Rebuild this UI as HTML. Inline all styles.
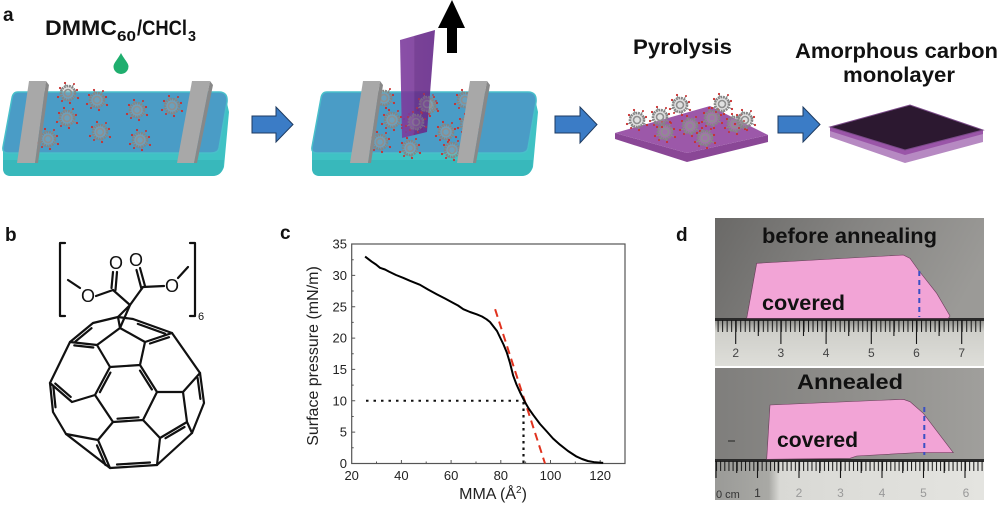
<!DOCTYPE html>
<html><head><meta charset="utf-8"><style>
html,body{margin:0;padding:0;background:#fff;}
svg{display:block;}
text{font-family:"Liberation Sans",Arial,sans-serif;}
</style></head><body>
<svg width="1000" height="507" viewBox="0 0 1000 507" xmlns="http://www.w3.org/2000/svg">
<defs>
<g id="mol">
<circle r="7" fill="#a9a9a9" fill-opacity="0.35" stroke="#858585" stroke-width="2.6" stroke-dasharray="1.8 0.8"/>
<circle r="3.5" fill="none" stroke="#8f8f8f" stroke-width="1.6"/>
<g stroke="#8a8a8a" stroke-width="1"><line x1="6" y1="-2" x2="9" y2="-3"/><line x1="-6" y1="-3" x2="-8" y2="-5"/><line x1="1" y1="7" x2="2" y2="10"/><line x1="-2" y1="-7" x2="-3" y2="-10"/><line x1="6" y1="3" x2="10" y2="5"/><line x1="-6" y1="3" x2="-10" y2="4"/><line x1="4" y1="-6" x2="6" y2="-9"/><line x1="-4" y1="6" x2="-6" y2="8"/></g>
<g fill="#c83030"><circle cx="9" cy="-3" r="1.1"/><circle cx="-8" cy="-5" r="1.1"/><circle cx="2" cy="10" r="1.1"/><circle cx="-3" cy="-10" r="1.1"/><circle cx="10" cy="5" r="1.1"/><circle cx="-10" cy="4" r="1.1"/><circle cx="6" cy="-9" r="1"/><circle cx="-6" cy="8" r="1"/></g>
</g>
<linearGradient id="plate" x1="0" y1="0" x2="1" y2="0"><stop offset="0" stop-color="#7d3c9e"/><stop offset="0.4" stop-color="#7a3a9a"/><stop offset="0.42" stop-color="#6a2d8a"/><stop offset="1" stop-color="#66298a"/></linearGradient>
<linearGradient id="bg1" x1="0" y1="0" x2="1" y2="0.3"><stop offset="0" stop-color="#6a6967"/><stop offset="0.5" stop-color="#858482"/><stop offset="1" stop-color="#9b9a97"/></linearGradient>
<linearGradient id="bg2" x1="0" y1="0" x2="1" y2="0"><stop offset="0" stop-color="#7f7e7c"/><stop offset="0.5" stop-color="#8f8e8b"/><stop offset="1" stop-color="#a09f9c"/></linearGradient>
<linearGradient id="rul1" x1="0" y1="0" x2="0" y2="1"><stop offset="0" stop-color="#8c8c88"/><stop offset="0.25" stop-color="#cfcfca"/><stop offset="1" stop-color="#deded9"/></linearGradient>
<linearGradient id="rul2" x1="0" y1="0" x2="1" y2="0"><stop offset="0" stop-color="#9a9a97"/><stop offset="0.2" stop-color="#a9a9a5"/><stop offset="0.24" stop-color="#d9d9d5"/><stop offset="1" stop-color="#e4e4e0"/></linearGradient>
<pattern id="t1" x="645.3" y="0" width="4.52" height="507" patternUnits="userSpaceOnUse"><rect x="0" y="0" width="1" height="507" fill="#151515"/></pattern>
<pattern id="t2" x="716" y="0" width="4.15" height="507" patternUnits="userSpaceOnUse"><rect x="0" y="0" width="1" height="507" fill="#151515"/></pattern>
</defs>

<!-- ================= Panel a ================= -->
<text x="3" y="21" font-size="19" font-weight="bold" fill="#111">a</text>
<text x="45" y="35" font-size="21" font-weight="bold" fill="#111" textLength="72" lengthAdjust="spacingAndGlyphs">DMMC</text>
<text x="117" y="41" font-size="15" font-weight="bold" fill="#111" textLength="19" lengthAdjust="spacingAndGlyphs">60</text>
<text x="137" y="35" font-size="21" font-weight="bold" fill="#111" textLength="50" lengthAdjust="spacingAndGlyphs">/CHCl</text>
<text x="188" y="41" font-size="15" font-weight="bold" fill="#111" textLength="8" lengthAdjust="spacingAndGlyphs">3</text>
<path d="M121,53 C118,59 113.5,63 113.5,66.5 A7.5,7.5 0 0 0 128.5,66.5 C128.5,63 124,59 121,53 Z" fill="#1fae6e"/>

<!-- trough 1 -->
<g>
<path d="M3,146 L218,149 L227,103 L229,112 L224,167 Q221,176 212,176 L11,176 Q3,176 3,168 Z" fill="#3fc2c4"/>
<path d="M3,160 L224,160 L223,168 Q221,176 212,176 L11,176 Q3,176 3,168 Z" fill="#38b8bb"/>
<path d="M18,92 L219,92 Q228,92 227,102 L219,148 Q218,153 211,153 L8,153 Q2,153 3,147 L12,98 Q13,92 18,92 Z" fill="#4a9cc6" stroke="#48bfca" stroke-width="1.5"/>
</g>
<g>
<use href="#mol" x="68" y="93"/><use href="#mol" x="97" y="100"/><use href="#mol" x="137" y="110"/><use href="#mol" x="172" y="106"/>
<use href="#mol" x="67" y="118"/><use href="#mol" x="48" y="139"/><use href="#mol" x="100" y="132"/><use href="#mol" x="140" y="140"/>
</g>
<polygon points="29,81 46,81 35,163 17,163" fill="#a8a8a8"/>
<polygon points="46,81 49,85 38,163 35,163" fill="#888"/>
<polygon points="192,81 210,81 194,163 177,163" fill="#a8a8a8"/>
<polygon points="210,81 213,85 197,163 194,163" fill="#888"/>

<!-- arrow 1 -->
<polygon points="252,116 276,116 276,107 293,124.5 276,142 276,133 252,133" fill="#3b7cc6" stroke="#1d3a60" stroke-width="1"/>

<!-- trough 2 -->
<g transform="translate(309,0)">
<path d="M3,146 L218,149 L227,103 L229,112 L224,167 Q221,176 212,176 L11,176 Q3,176 3,168 Z" fill="#3fc2c4"/>
<path d="M3,160 L224,160 L223,168 Q221,176 212,176 L11,176 Q3,176 3,168 Z" fill="#38b8bb"/>
<path d="M18,92 L219,92 Q228,92 227,102 L219,148 Q218,153 211,153 L8,153 Q2,153 3,147 L12,98 Q13,92 18,92 Z" fill="#4a9cc6" stroke="#48bfca" stroke-width="1.5"/>
</g>
<g>
<use href="#mol" x="384" y="98"/><use href="#mol" x="392" y="120"/><use href="#mol" x="380" y="142"/><use href="#mol" x="428" y="106"/>
<use href="#mol" x="446" y="132"/><use href="#mol" x="465" y="100"/><use href="#mol" x="468" y="124"/><use href="#mol" x="410" y="148"/><use href="#mol" x="452" y="150"/><use href="#mol" x="412" y="124"/>
</g>
<polygon points="363,81 380,81 368,163 350,163" fill="#a8a8a8"/>
<polygon points="380,81 383,85 371,163 368,163" fill="#888"/>
<polygon points="470,81 487,81 473,163 457,163" fill="#a8a8a8"/>
<polygon points="487,81 490,85 476,163 473,163" fill="#888"/>
<polygon points="400,40 435,30 427,132 402,138" fill="url(#plate)" opacity="0.9"/>
<use href="#mol" x="416" y="122" opacity="0.6"/><use href="#mol" x="427" y="104" opacity="0.6"/>
<polygon points="452,0 465,28 457,28 457,53 447,53 447,28 438,28" fill="#000"/>

<!-- arrow 2 -->
<polygon points="555,116 580,116 580,107 597,124.5 580,143 580,133 555,133" fill="#3b7cc6" stroke="#1d3a60" stroke-width="1"/>

<text x="633" y="54" font-size="21" font-weight="bold" fill="#111" textLength="99" lengthAdjust="spacingAndGlyphs">Pyrolysis</text>
<!-- pyrolysis slab -->
<polygon points="615,133 687,153 768,135 768,142 687,162 615,139" fill="#8a4796"/>
<polygon points="615,133 710,106 768,135 687,153" fill="#9c58a9"/>
<g>
<use href="#mol" x="637" y="120"/><use href="#mol" x="680" y="105"/><use href="#mol" x="690" y="126"/><use href="#mol" x="712" y="118"/>
<use href="#mol" x="735" y="124"/><use href="#mol" x="745" y="120"/><use href="#mol" x="665" y="132"/><use href="#mol" x="705" y="138"/><use href="#mol" x="660" y="117"/><use href="#mol" x="722" y="104"/>
</g>

<!-- arrow 3 -->
<polygon points="778,116 803,116 803,107 820,124.5 803,142 803,133 778,133" fill="#3b7cc6" stroke="#1d3a60" stroke-width="1"/>

<text x="795" y="58" font-size="21" font-weight="bold" fill="#111" textLength="203" lengthAdjust="spacingAndGlyphs">Amorphous carbon</text>
<text x="843" y="82" font-size="21" font-weight="bold" fill="#111" textLength="112" lengthAdjust="spacingAndGlyphs">monolayer</text>
<!-- carbon slab -->
<polygon points="830,127 905,150 983,130 983,142 905,163 830,137" fill="#b689c2"/>
<polygon points="830,127 905,150 983,130 983,134 905,155 830,131" fill="#9a55a8"/>
<polygon points="830,127 910,105 983,130 905,150" fill="#2c1830" stroke="#7a4a88" stroke-width="1"/>

<!-- ================= Panel b ================= -->
<text x="5" y="241" font-size="19" font-weight="bold" fill="#111">b</text>
<g fill="none" stroke="#111" stroke-width="2.2" stroke-linejoin="round" stroke-linecap="round">
<path d="M65,243 L60,243 L60,316 L65,316"/>
<path d="M190,243 L195,243 L195,316 L190,316"/>
<path d="M130,305 L113,290 M130,305 L143,287"/>
<path d="M111.5,288 L113,272 M115.5,290 L117,272"/>
<path d="M141.5,289 L136.5,270 M145,286 L140,268"/>
<path d="M113,290 L96,296 M80,288 L68,280"/>
<path d="M143,287 L164,286 M178,278 L188,267"/>
<path d="M130,305 L118,317 M130,305 L120,328"/>
<path d="M118,317 L133,319 L172,333 L200,373 L204,403 L192,433 L157,465 L110,468 L66,434 L53,412 L50,383 L70,342 L93,323 Z"/>
<path d="M118,317 L120,328 M120,328 L97,345 M120,328 L145,342 M97,345 L110,367 L140,365 L145,342 M145,342 L172,333 M97,345 L70,342 M140,365 L157,392 L143,420 L113,422 L95,395 L110,367 M157,392 L183,392 L200,373 M183,392 L187,422 L192,433 M187,422 L160,438 L143,420 M160,438 L157,465 M113,422 L98,440 L110,468 M98,440 L66,434 M95,395 L72,402 L50,383"/>
<path d="M110.4,372.6 L99.9,392.2 M140,370.6 L151.9,389.5 M138.5,417.3 L117.5,418.7 M91.5,328.2 L75.4,341.5 M137.8,323.9 L165.1,333.7 M53.4,387 L55.5,407.3 M197.6,377.9 L200.4,398.9 M117,464.5 L150,462.5 M97,445.4 L105.5,465 M184.5,427 L165.5,438.2 M93.3,347.5 L74.3,345.4 M150,343.5 L169,337.2 M70.7,396.9 L55.3,383.6"/>
</g>
<text x="116" y="269" font-size="18" fill="#111" text-anchor="middle">O</text>
<text x="136" y="266" font-size="18" fill="#111" text-anchor="middle">O</text>
<text x="88" y="302" font-size="18" fill="#111" text-anchor="middle">O</text>
<text x="172" y="292" font-size="18" fill="#111" text-anchor="middle">O</text>
<text x="198" y="320" font-size="11" fill="#111">6</text>

<!-- ================= Panel c ================= -->
<text x="280" y="239" font-size="19" font-weight="bold" fill="#111">c</text>
<rect x="351.7" y="244" width="273.3" height="219.5" fill="none" stroke="#555" stroke-width="1.2"/>
<g stroke="#555" stroke-width="1">
<path d="M351.7,463.5 h3.5 M351.7,432.1 h3.5 M351.7,400.8 h3.5 M351.7,369.4 h3.5 M351.7,338.1 h3.5 M351.7,306.7 h3.5 M351.7,275.4 h3.5 M351.7,244 h3.5"/>
<path d="M351.7,447.8 h2 M351.7,416.5 h2 M351.7,385.1 h2 M351.7,353.8 h2 M351.7,322.4 h2 M351.7,291 h2 M351.7,259.7 h2"/>
<path d="M401.4,463.5 v-3.5 M451.1,463.5 v-3.5 M500.8,463.5 v-3.5 M550.5,463.5 v-3.5 M600.2,463.5 v-3.5"/>
<path d="M376.5,463.5 v-2 M426.2,463.5 v-2 M476,463.5 v-2 M525.6,463.5 v-2 M575.3,463.5 v-2"/>
</g>
<g font-size="13" fill="#222" text-anchor="end">
<text x="347" y="468">0</text><text x="347" y="436.7">5</text><text x="347" y="405.4">10</text><text x="347" y="374">15</text>
<text x="347" y="342.7">20</text><text x="347" y="311.3">25</text><text x="347" y="280">30</text><text x="347" y="248.6">35</text>
</g>
<g font-size="13" fill="#222" text-anchor="middle">
<text x="351.7" y="480">20</text><text x="401.4" y="480">40</text><text x="451.1" y="480">60</text>
<text x="500.8" y="480">80</text><text x="550.5" y="480">100</text><text x="600.2" y="480">120</text>
</g>
<text x="493" y="499" font-size="16" fill="#222" text-anchor="middle">MMA (Å<tspan font-size="10" dy="-6">2</tspan><tspan dy="6">)</tspan></text>
<text transform="translate(318,356) rotate(-90)" font-size="16" fill="#222" text-anchor="middle">Surface pressure (mN/m)</text>
<path d="M366,400.8 L522,400.8" stroke="#111" stroke-width="2" stroke-dasharray="2.5 5" fill="none"/>
<path d="M523.5,402 L523.5,463.5" stroke="#111" stroke-width="2.2" stroke-dasharray="2.5 4" fill="none"/>
<path d="M495.1,309.2 L545,463.5" stroke="#e0321e" stroke-width="2" stroke-dasharray="8 5" fill="none"/>
<polyline fill="none" stroke="#000" stroke-width="2" stroke-linejoin="round" points="365.1,256.6 371.6,261.6 376,264.5 380,267.8 385,269.5 389,271.6 396,275 403.4,277.9 410,280.8 420,284.8 428,289.5 436.7,294.2 445,298.5 453.3,303 458,305.5 463.3,309.2 470,312 476.7,314.3 482,316.5 486.6,319.3 490,322 493.3,326.2 497,331 500.1,337.5 503.5,344.5 506.8,352.5 510,363 513.2,375.7 516.5,384.5 519.9,392 524.9,402 529,409 533.4,415.2 540,424 546.8,431.5 553,438.5 560,444.7 568,451 576.6,456.6 582,459 587.8,461 595,462.3 603.2,462.9"/>

<!-- ================= Panel d ================= -->
<text x="676" y="241" font-size="19" font-weight="bold" fill="#111">d</text>
<!-- top photo -->
<rect x="715" y="218" width="269" height="148" fill="url(#bg1)"/>
<rect x="715" y="320" width="269" height="46" fill="url(#rul1)"/>
<rect x="715" y="318" width="269" height="3" fill="#2a2a2a"/>
<rect x="715" y="320" width="269" height="12" fill="url(#t1)"/>
<g stroke="#151515" stroke-width="1.1">
<path d="M735.7,320 v24 M780.9,320 v24 M826.1,320 v24 M871.3,320 v24 M916.5,320 v24 M961.7,320 v24"/>
<path d="M758.3,320 v16 M803.5,320 v16 M848.7,320 v16 M893.9,320 v16 M939.1,320 v16"/>
</g>
<g font-size="12" fill="#444" text-anchor="middle">
<text x="735.7" y="357">2</text><text x="780.9" y="357">3</text><text x="826.1" y="357">4</text><text x="871.3" y="357">5</text><text x="916.5" y="357">6</text><text x="961.7" y="357">7</text>
</g>
<polygon points="756.7,263.3 903.3,255 910,258.3 918.3,270 936.7,293.3 950,316 948.3,318.3 746.7,318.3" fill="#f2a4d6" stroke="#6b3a5a" stroke-width="0.6"/>
<path d="M919.3,271 L919.3,317" stroke="#3a4fc4" stroke-width="2" stroke-dasharray="5 4"/>
<text x="762" y="243" font-size="21" font-weight="bold" fill="#111" textLength="175" lengthAdjust="spacingAndGlyphs">before annealing</text>
<text x="762" y="310" font-size="21" font-weight="bold" fill="#111" textLength="83" lengthAdjust="spacingAndGlyphs">covered</text>
<!-- bottom photo -->
<rect x="715" y="368" width="269" height="132" fill="url(#bg2)"/>
<rect x="715" y="462" width="269" height="38" fill="url(#rul2)"/>
<rect x="715" y="459" width="269" height="3" fill="#2a2a2a"/>
<rect x="715" y="461" width="269" height="10" fill="url(#t2)"/>
<g stroke="#151515" stroke-width="1.1">
<path d="M716,461 v17 M757.5,461 v17 M799,461 v17 M840.5,461 v17 M882,461 v17 M923.5,461 v17 M965,461 v17"/>
<path d="M736.7,461 v12 M778.2,461 v12 M819.7,461 v12 M861.2,461 v12 M902.7,461 v12 M944.2,461 v12"/>
</g>
<g font-size="12" fill="#999" text-anchor="middle">
<text x="799" y="497">2</text><text x="840.5" y="497">3</text><text x="882" y="497">4</text><text x="923.5" y="497">5</text><text x="966" y="497">6</text>
</g>
<text x="716" y="498" font-size="11" fill="#333">0 cm</text>
<text x="757.5" y="497" font-size="12" fill="#333" text-anchor="middle">1</text>
<polygon points="770,405 903.3,399.3 910,401.7 923.3,413.3 953.3,452.7 916.7,452.7 856.7,456 850,458.3 766.7,459.3" fill="#f2a4d6" stroke="#6b3a5a" stroke-width="0.6"/>
<path d="M924.3,407 L924.3,455" stroke="#3a4fc4" stroke-width="2" stroke-dasharray="5 4"/>
<path d="M728,441 L735,441" stroke="#333" stroke-width="1.2"/>
<text x="797" y="389" font-size="21" font-weight="bold" fill="#111" textLength="106" lengthAdjust="spacingAndGlyphs">Annealed</text>
<text x="777" y="447" font-size="21" font-weight="bold" fill="#111" textLength="81" lengthAdjust="spacingAndGlyphs">covered</text>
</svg>
</body></html>
